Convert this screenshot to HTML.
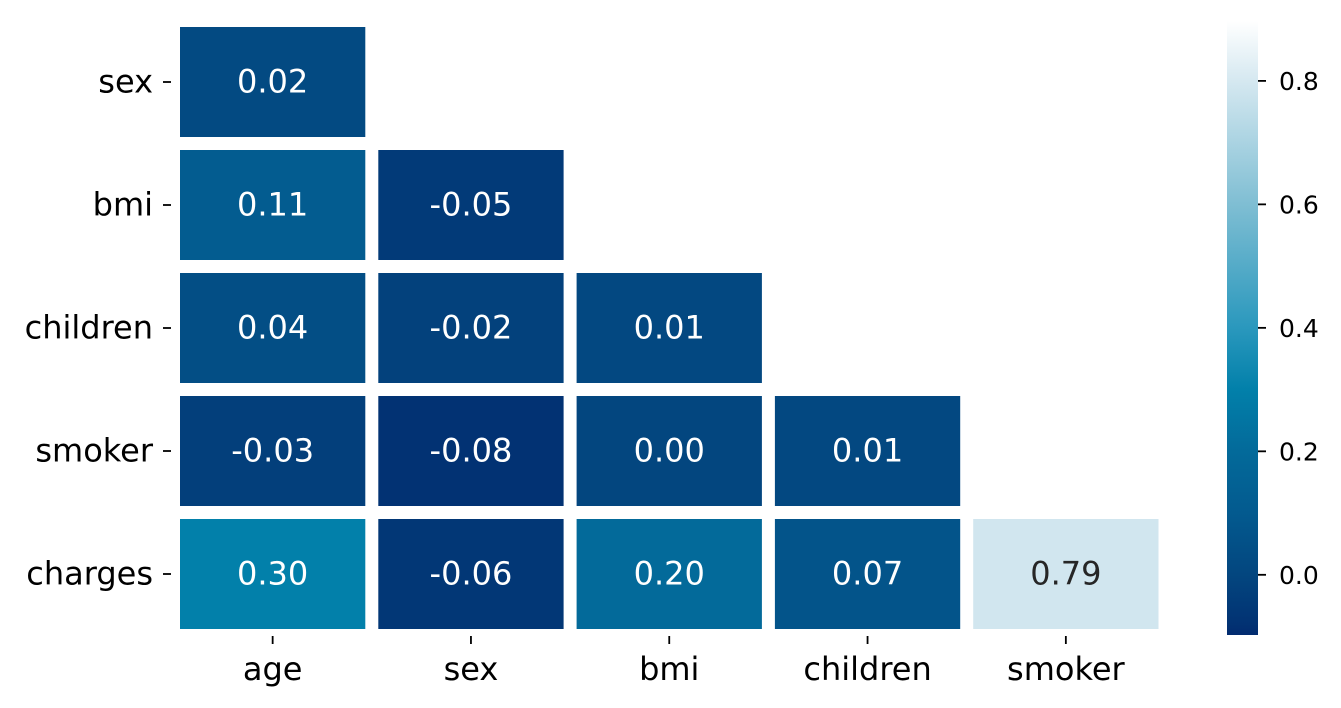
<!DOCTYPE html>
<html><head><meta charset="utf-8"><style>
body{margin:0;background:#fff;}
svg{display:block;font-family:"DejaVu Sans","Liberation Sans",sans-serif;}
</style></head><body>
<svg id="chart" width="1341" height="708"></svg>
<script>
const rowLabels=["sex","bmi","children","smoker","charges"];
const colLabels=["age","sex","bmi","children","smoker"];
const values=[
[0.02,null,null,null,null],
[0.11,-0.05,null,null,null],
[0.04,-0.02,0.01,null,null],
[-0.03,-0.08,0.00,0.01,null],
[0.30,-0.06,0.20,0.07,0.79]];
const cbTicks=[0.0,0.2,0.4,0.6,0.8];
const vmin=-0.0975, vmax=0.897;
const stops=[[-0.0975,[2,43,111]],[-0.08,[2,50,115]],[0.0,[3,70,127]],[0.1,[3,90,143]],[0.2,[3,106,154]],[0.3,[2,128,170]],[0.4,[42,152,189]],[0.6,[127,190,211]],[0.79,[209,230,239]],[0.897,[255,255,255]]];
function color(v){
 for(let i=0;i<stops.length-1;i++){const a=stops[i],b=stops[i+1];
  if(v<=b[0]){const t=Math.max(0,(v-a[0])/(b[0]-a[0]));return `rgb(${a[1].map((c,j)=>Math.round(c+(b[1][j]-c)*t)).join(',')})`;}}
 return "rgb(255,255,255)";
}
const svg=document.getElementById('chart');
const NS="http://www.w3.org/2000/svg";
function mk(t,a,p){const e=document.createElementNS(NS,t);for(const k in a)e.setAttribute(k,a[k]);(p||svg).appendChild(e);return e;}
const x0=173.5,y0=20.5,cw=198.3,ch=123,gap=13;
const xs=i=>x0+i*cw, ys=j=>y0+j*ch;
values.forEach((row,r)=>row.forEach((v,c)=>{
 if(v===null)return;
 const rect=mk('rect',{x:xs(c)+gap/2,y:ys(r)+gap/2,width:cw-gap,height:ch-gap,fill:color(v)});
 
 
 const t=mk('text',{x:xs(c)+cw/2,y:ys(r)+ch/2+10.5,'text-anchor':'middle','font-size':'32',fill:v>0.6?'#262626':'#fff'});
 t.textContent=v.toFixed(2);
 
 
}));
rowLabels.forEach((l,r)=>{
 const y=ys(r)+ch/2;
 mk('line',{x1:163,x2:171,y1:y,y2:y,stroke:'#000','stroke-width':1.8});
 const t=mk('text',{x:153,y:y+10.5,'text-anchor':'end','font-size':'32',fill:'#000'});t.textContent=l;
 
 
});
colLabels.forEach((l,c)=>{
 const x=xs(c)+cw/2;
 mk('line',{x1:x,x2:x,y1:636,y2:644,stroke:'#000','stroke-width':1.8});
 const t=mk('text',{x:x,y:680,'text-anchor':'middle','font-size':'32',fill:'#000'});t.textContent=l;
 
 
});
const cbx=1227,cbw=31,cbTop=21,cbBot=635;
const cy=v=>cbBot-(v-vmin)/(vmax-vmin)*(cbBot-cbTop);
const defs=mk('defs',{});
const g=mk('linearGradient',{id:'cbg',x1:0,y1:1,x2:0,y2:0},defs);
stops.forEach(s=>mk('stop',{offset:(s[0]-vmin)/(vmax-vmin),'stop-color':`rgb(${s[1].join(',')})`},g));
const cb=mk('rect',{x:cbx,y:cbTop,width:cbw,height:cbBot-cbTop,fill:'url(#cbg)'});


cbTicks.forEach(v=>{
 const y=cy(v);
 mk('line',{x1:cbx+cbw,x2:cbx+cbw+8,y1:y,y2:y,stroke:'#000','stroke-width':1.8});
 const t=mk('text',{x:1279,y:y+9,'font-size':'25',fill:'#000'});t.textContent=v.toFixed(1);
 
 
});
</script>
</body></html>
